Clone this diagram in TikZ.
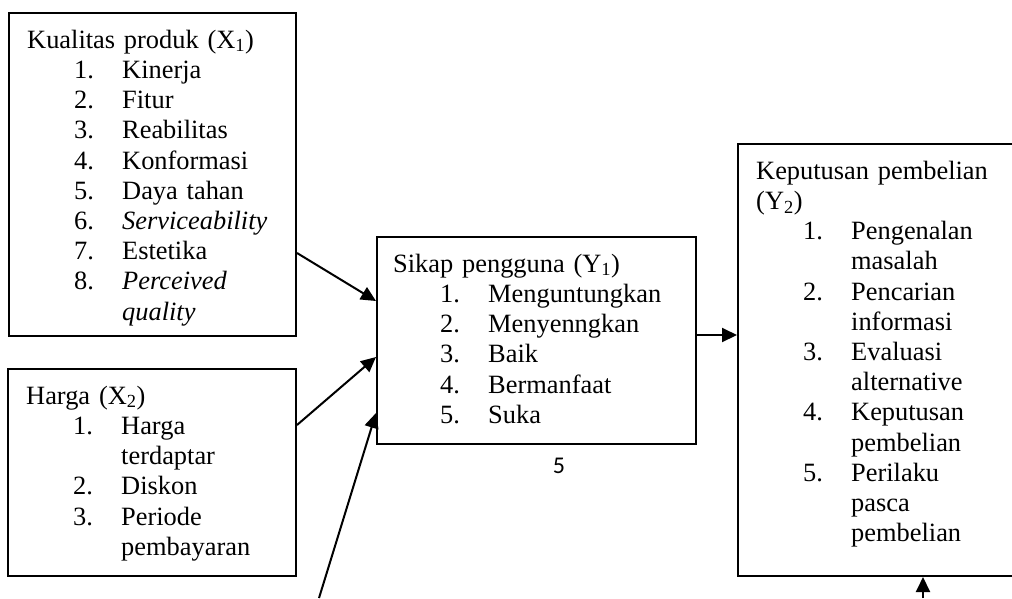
\documentclass[tikz,border=0pt]{standalone}
\usepackage{fontspec}
\setmainfont{Liberation Serif}
\newfontfamily\numfont{Carlito}
\usetikzlibrary{arrows.meta,calc}
\newcommand{\hd}[1]{\raggedright\noindent\rule{0pt}{20pt}#1}
\newcommand{\itm}[2]{\par\noindent\hangindent=95pt\hangafter=1\hspace*{47pt}\makebox[48pt][l]{#1.}#2}
\begin{document}
\begin{tikzpicture}
    [x=1pt,y=-1pt,
    box/.style={draw,line width=2pt,inner sep=0pt,anchor=north west},
    txt/.style={anchor=north west,inner sep=0pt,align=left,
      font=\fontsize{26.4}{30.2}\selectfont},
    arr/.style={line width=2pt,-{Triangle[length=15pt,width=14pt]}}]
    \useasboundingbox (0,0) rectangle (1012,598);
    \clip (0,0) rectangle (1012,598);
    % boxes
    \node[box,minimum width=287pt,minimum height=323pt] (x1) at (8,12) {};
    \node[box,minimum width=288pt,minimum height=207pt] (x2) at (7,368) {};
    \node[box,minimum width=319pt,minimum height=207pt] (y1) at (376,236) {};
    \node[box,minimum width=300pt,minimum height=432pt] (y2) at (737,143) {};
    % texts
    \node[txt,text width=262pt] (x1t) at ($(x1.north west)+(19,16)$) {%
      \hd{Kualitas produk (X\textsubscript{1})}
      \itm{1}{Kinerja}
      \itm{2}{Fitur}
      \itm{3}{Reabilitas}
      \itm{4}{Konformasi}
      \itm{5}{Daya tahan}
      \itm{6}{\textit{Serviceability}}
      \itm{7}{Estetika}
      \itm{8}{\textit{Perceived}\newline\textit{quality}}\par};
    \node[txt,text width=262pt] (x2t) at ($(x2.north west)+(19,16)$) {%
      \hd{Harga (X\textsubscript{2})}
      \itm{1}{Harga\newline terdaptar}
      \itm{2}{Diskon}
      \itm{3}{Periode\newline pembayaran}\par};
    \node[txt,text width=295pt] (y1t) at ($(y1.north west)+(17,16)$) {%
      \hd{Sikap pengguna (Y\textsubscript{1})}
      \itm{1}{Menguntungkan}
      \itm{2}{Menyenngkan}
      \itm{3}{Baik}
      \itm{4}{Bermanfaat}
      \itm{5}{Suka}\par};
    \node[txt,text width=250pt] (y2t) at ($(y2.north west)+(19,16)$) {%
      \hd{Keputusan pembelian\newline(Y\textsubscript{2})}
      \itm{1}{Pengenalan\newline masalah}
      \itm{2}{Pencarian\newline informasi}
      \itm{3}{Evaluasi\newline alternative}
      \itm{4}{Keputusan\newline pembelian}
      \itm{5}{Perilaku\newline pasca\newline pembelian}\par};
    \node[font=\numfont\fontsize{24}{28}\selectfont] (pg) at (559,466) {5};
    % arrows
    \coordinate (ext1) at (319,598);
    \coordinate (ext2) at (923,598);
    \draw[arr] ($(x1.north east)+(0,241)$) -- ($(y1.north west)+(0,65)$);
    \draw[arr] ($(x2.north east)+(0,57)$) -- ($(y1.north west)+(0,121)$);
    \draw[arr] (ext1) -- ($(y1.north west)+(0,177)$);
    \draw[arr] ($(y1.north east)+(0,99)$) -- ($(y2.north west)+(0,192)$);
    \draw[arr] (ext2) -- (ext2 |- y2.south);
\end{tikzpicture}
\end{document}
